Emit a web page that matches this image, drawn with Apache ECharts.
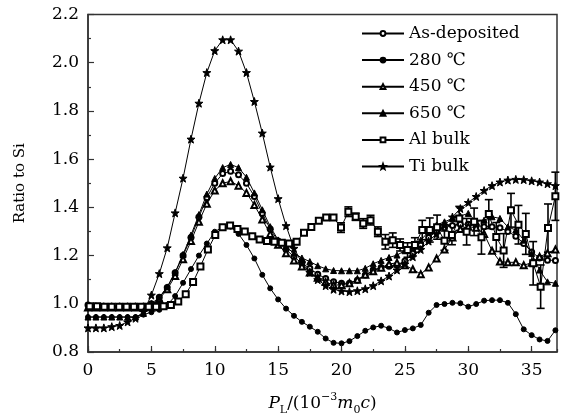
<!DOCTYPE html>
<html>
<head>
<meta charset="utf-8">
<script src="https://cdn.jsdelivr.net/npm/echarts/dist/echarts.min.js"></script>
<style>
  html, body { margin: 0; padding: 0; background: #fff; }
  #main { width: 561px; height: 418px; }
</style>
</head>
<body>
<div id="main"></div>
<script>
// x grid shared by the annealed samples and Ti bulk
var xs = [0, 0.625, 1.25, 1.875, 2.5, 3.125, 3.75, 4.375, 5, 5.625,
  6.25, 6.875, 7.5, 8.125, 8.75, 9.375, 10, 10.625, 11.25, 11.875,
  12.5, 13.125, 13.75, 14.375, 15, 15.625, 16.25, 16.875, 17.5, 18.125,
  18.75, 19.375, 20, 20.625, 21.25, 21.875, 22.5, 23.125, 23.75, 24.375,
  25, 25.625, 26.25, 26.875, 27.5, 28.125, 28.75, 29.375, 30, 30.625,
  31.25, 31.875, 32.5, 33.125, 33.75, 34.375, 35, 35.625, 36.25, 36.875];

var asDeposited = [0.995, 0.99, 0.99, 0.99, 0.99, 0.99, 0.99, 0.99, 1.0, 1.027,
  1.068, 1.129, 1.20, 1.275, 1.36, 1.44, 1.50, 1.54, 1.55, 1.535,
  1.50, 1.445, 1.375, 1.31, 1.26, 1.225, 1.195, 1.168, 1.147, 1.123,
  1.105, 1.091, 1.085, 1.085, 1.098, 1.119, 1.14, 1.151, 1.156, 1.16,
  1.178, 1.21, 1.245, 1.275, 1.30, 1.315, 1.325, 1.33, 1.33, 1.325,
  1.32, 1.32, 1.315, 1.30, 1.28, 1.25, 1.215, 1.19, 1.181, 1.18];

var t280 = [0.945, 0.945, 0.945, 0.945, 0.945, 0.945, 0.945, 0.955, 0.965, 0.975,
  0.995, 1.032, 1.087, 1.144, 1.20, 1.25, 1.299, 1.318, 1.32, 1.29,
  1.244, 1.188, 1.12, 1.064, 1.018, 0.98, 0.95, 0.925, 0.905, 0.884,
  0.856, 0.838, 0.836, 0.845, 0.866, 0.888, 0.902, 0.909, 0.898, 0.881,
  0.891, 0.898, 0.912, 0.963, 0.995, 0.999, 1.004, 1.002, 0.988, 0.999,
  1.013, 1.015, 1.015, 1.004, 0.957, 0.894, 0.87, 0.852, 0.846, 0.89];

var t450 = [0.985, 0.985, 0.985, 0.985, 0.985, 0.985, 0.985, 0.985, 0.995, 1.02,
  1.06, 1.115, 1.185, 1.26, 1.34, 1.415, 1.47, 1.50, 1.508, 1.49,
  1.46, 1.41, 1.35, 1.29, 1.245, 1.21, 1.18, 1.155, 1.13, 1.108,
  1.09, 1.078, 1.078, 1.085, 1.10, 1.12, 1.135, 1.15, 1.165, 1.17,
  1.16, 1.143, 1.123, 1.151, 1.188, 1.225, 1.275, 1.31, 1.32, 1.315,
  1.29, 1.22, 1.175, 1.172, 1.172, 1.16, 1.17, 1.195, 1.21, 1.225];

var t650 = [0.945, 0.945, 0.945, 0.945, 0.945, 0.945, 0.945, 0.96, 0.985, 1.025,
  1.07, 1.13, 1.205, 1.285, 1.37, 1.455, 1.52, 1.565, 1.578, 1.565,
  1.525, 1.46, 1.39, 1.32, 1.265, 1.235, 1.21, 1.19, 1.175, 1.158,
  1.145, 1.138, 1.137, 1.137, 1.137, 1.147, 1.166, 1.18, 1.192, 1.202,
  1.22, 1.237, 1.264, 1.299, 1.327, 1.34, 1.354, 1.364, 1.375, 1.34,
  1.347, 1.361, 1.354, 1.319, 1.306, 1.264, 1.209, 1.14, 1.091, 1.085];

var tiBulk = [0.90, 0.90, 0.90, 0.905, 0.91, 0.925, 0.94, 0.967, 1.036, 1.125,
  1.232, 1.377, 1.521, 1.683, 1.832, 1.959, 2.05, 2.095, 2.095, 2.048,
  1.959, 1.839, 1.708, 1.567, 1.436, 1.324, 1.23, 1.17, 1.13, 1.10,
  1.075, 1.06, 1.053, 1.05, 1.054, 1.062, 1.075, 1.095, 1.115, 1.14,
  1.165, 1.195, 1.225, 1.26, 1.29, 1.325, 1.36, 1.395, 1.42, 1.445,
  1.47, 1.49, 1.505, 1.513, 1.516, 1.515, 1.51, 1.505, 1.498, 1.49];

// Al bulk was sampled on its own grid
var alX = [0.13, 0.71, 1.29, 1.87, 2.46, 3.04, 3.62, 4.21, 4.79, 5.37,
  5.96, 6.54, 7.12, 7.71, 8.29, 8.87, 9.46, 10.04, 10.62, 11.21,
  11.79, 12.37, 12.96, 13.54, 14.12, 14.71, 15.29, 15.87, 16.46, 17.04,
  17.62, 18.21, 18.79, 19.37, 19.96, 20.54, 21.12, 21.71, 22.29, 22.87,
  23.46, 24.04, 24.62, 25.21, 25.79, 26.37, 26.96, 27.54, 28.12, 28.71,
  29.29, 29.87, 30.46, 31.04, 31.62, 32.21, 32.79, 33.37, 33.96, 34.54,
  35.12, 35.71, 36.29, 36.87];

var alBulk = [0.99, 0.99, 0.988, 0.988, 0.988, 0.988, 0.988, 0.988, 0.988, 0.988,
  0.99, 0.995, 1.01, 1.04, 1.09, 1.155, 1.225, 1.285, 1.318, 1.325,
  1.31, 1.30, 1.28, 1.267, 1.26, 1.257, 1.253, 1.25, 1.257, 1.295,
  1.319, 1.344, 1.358, 1.358, 1.316, 1.382, 1.361, 1.333, 1.347, 1.299,
  1.257, 1.264, 1.244, 1.223, 1.244, 1.306, 1.306, 1.318, 1.262, 1.285,
  1.354, 1.299, 1.34, 1.276, 1.372, 1.277, 1.221, 1.388, 1.328, 1.29,
  1.168, 1.071, 1.314, 1.446];

var alErr = [0, 0, 0, 0, 0, 0, 0, 0, 0, 0,
  0, 0, 0, 0, 0, 0, 0, 0, 0, 0,
  0, 0, 0, 0, 0, 0, 0, 0, 0, 0,
  0, 0, 0, 0, 0.02, 0.02, 0.015, 0.02, 0.02, 0.02,
  0.03, 0.03, 0.025, 0.03, 0.03, 0.04, 0.05, 0.05, 0.04, 0.04,
  0.05, 0.055, 0.057, 0.07, 0.06, 0.06, 0.07, 0.07, 0.08, 0.085,
  0.09, 0.09, 0.1, 0.1];

var xTicks = [0, 37, 5];        // min, max, interval
var yTicks = [0.8, 2.2, 0.2];

var serif = 'DejaVu Serif';
var starPath = 'path://M0,-10L2.35,-3.24L9.51,-3.09L3.8,1.24L5.88,8.09L0,4.3L-5.88,8.09L-3.8,1.24L-9.51,-3.09L-2.35,-3.24Z';

function pairs(x, y) {
  return x.map(function (v, i) { return [v, y[i]]; });
}

function lineSeries(name, ys, symbol, size, x) {
  return {
    name: name,
    type: 'line',
    data: pairs(x || xs, ys),
    symbol: symbol,
    symbolSize: size,
    showAllSymbol: true,
    lineStyle: { color: '#000', width: 1 },
    itemStyle: { color: '#000', borderColor: '#000', borderWidth: 1 },
    emphasis: { disabled: true },
    z: 3
  };
}

function renderErr(params, api) {
  var x = api.value(0), y = api.value(1), e = api.value(2);
  if (!e) return null;
  var top = api.coord([x, y + e]);
  var bot = api.coord([x, y - e]);
  var w = 4;
  var st = { stroke: '#000', lineWidth: 1.6 };
  return {
    type: 'group',
    children: [
      { type: 'line', shape: { x1: top[0], y1: top[1], x2: bot[0], y2: bot[1] }, style: st },
      { type: 'line', shape: { x1: top[0] - w, y1: top[1], x2: top[0] + w, y2: top[1] }, style: st },
      { type: 'line', shape: { x1: bot[0] - w, y1: bot[1], x2: bot[0] + w, y2: bot[1] }, style: st }
    ]
  };
}

var chart = echarts.init(document.getElementById('main'), null, { renderer: 'canvas' });

var option = {
  backgroundColor: '#fff',
  animation: false,
  grid: {
    left: 88, right: 4, top: 14.5, bottom: 66,
    show: true, borderColor: '#333', borderWidth: 1.5,
    outerBoundsMode: 'none'
  },
  legend: {
    orient: 'vertical',
    left: 356, top: 20,
    itemWidth: 42, itemHeight: 6, itemGap: 9.6,
    lineStyle: { width: 2 },
    textStyle: { fontFamily: serif, fontSize: 17, color: '#000' },
    data: ['As-deposited', '280 ℃', '450 ℃', '650 ℃', 'Al bulk', 'Ti bulk']
  },
  xAxis: [{
    type: 'value',
    min: xTicks[0], max: xTicks[1], interval: xTicks[2],
    name: '{i|P}{sub|L}{n|/(10}{sup|−3}{i|m}{sub|0}{i|c}{n|)}',
    nameLocation: 'middle', nameGap: 40,
    nameTextStyle: {
      color: '#000',
      rich: {
        n: { fontFamily: serif, fontSize: 17, color: '#000', lineHeight: 24 },
        i: { fontFamily: serif, fontSize: 17, fontStyle: 'italic', color: '#000', lineHeight: 24 },
        sub: { fontFamily: serif, fontSize: 11, color: '#000', verticalAlign: 'bottom', lineHeight: 13 },
        sup: { fontFamily: serif, fontSize: 11, color: '#000', verticalAlign: 'top', lineHeight: 13 }
      }
    },
    axisLine: { onZero: false, lineStyle: { color: '#333', width: 1.5 } },
    axisTick: { inside: true, length: 6, lineStyle: { color: '#333', width: 1.2 } },
    axisLabel: { fontFamily: serif, fontSize: 17, color: '#000', margin: 10, showMaxLabel: false },
    splitLine: { show: false }
  }, {
    type: 'value',
    position: 'bottom',
    min: xTicks[0], max: xTicks[1], interval: xTicks[2] / 2,
    axisLine: { show: false },
    axisTick: { inside: true, length: 3, lineStyle: { color: '#333', width: 1.2 } },
    axisLabel: { show: false },
    splitLine: { show: false }
  }],
  yAxis: {
    type: 'value',
    min: yTicks[0], max: yTicks[1], interval: yTicks[2],
    name: 'Ratio to Si',
    nameLocation: 'middle', nameGap: 60,
    nameTextStyle: { fontFamily: serif, fontSize: 15, color: '#000' },
    axisLine: { onZero: false, lineStyle: { color: '#333', width: 1.5 } },
    axisTick: { inside: true, length: 6, lineStyle: { color: '#333', width: 1.2 } },
    minorTick: { show: true, splitNumber: 2, length: 3, lineStyle: { color: '#333', width: 1.2 } },
    axisLabel: {
      fontFamily: serif, fontSize: 17, color: '#000', margin: 9,
      formatter: function (v) { return v.toFixed(1); }
    },
    splitLine: { show: false }
  },
  series: [
    {
      name: 'Al bulk err',
      type: 'custom',
      renderItem: renderErr,
      data: alX.map(function (x, i) { return [x, alBulk[i], alErr[i]]; }),
      encode: { x: 0, y: 1 },
      z: 2,
      silent: true
    },
    lineSeries('As-deposited', asDeposited, 'emptyCircle', 5),
    lineSeries('280 ℃', t280, 'circle', 5),
    lineSeries('450 ℃', t450, 'emptyTriangle', 6),
    lineSeries('650 ℃', t650, 'triangle', 6),
    lineSeries('Al bulk', alBulk, 'emptyRect', 6, alX),
    lineSeries('Ti bulk', tiBulk, starPath, 8)
  ]
};

chart.setOption(option);
</script>
</body>
</html>
